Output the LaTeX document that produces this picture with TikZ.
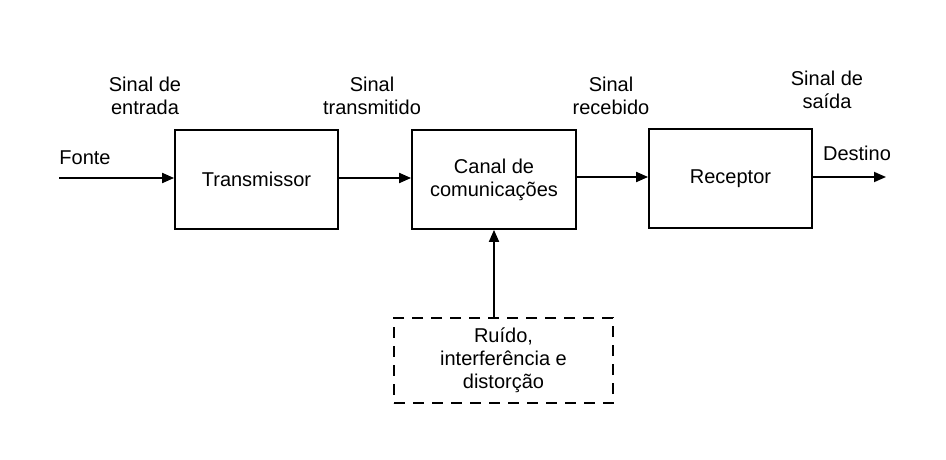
\documentclass[tikz,border=0pt]{standalone}
\usepackage{fontspec}
\setmainfont{Liberation Sans}
\usetikzlibrary{arrows.meta}
\begin{document}
\begin{tikzpicture}[x=1pt,y=-1pt,
  blockbox/.style={draw,line width=1.8pt,inner sep=0pt},
  conn/.style={line width=1.8pt,-{Triangle[length=12pt,width=10pt]}},
  lbl/.style={font=\fontsize{20}{23}\selectfont,align=center,inner sep=0pt},
  txt/.style={font=\fontsize{20}{23}\selectfont,align=center}]
\useasboundingbox (0,0) rectangle (946,460);
\node[blockbox,minimum width=163pt,minimum height=99pt,txt] (tx) at (256.5,179.5) {Transmissor};
\node[blockbox,minimum width=164pt,minimum height=99pt,txt] (ch) at (494,179.5) {Canal de\\comunicações};
\node[blockbox,minimum width=163pt,minimum height=99pt,txt] (rx) at (730.5,178.5) {Receptor};
\node[blockbox,dashed,dash pattern=on 11pt off 8pt,minimum width=219pt,minimum height=85pt,txt] (noise) at (503.5,360.5) {Ruído,\\interferência e\\distorção};
\coordinate (src) at (59,178);
\coordinate (dst) at (886,177);
\draw[conn] (src) -- (tx.west |- src);
\draw[conn] (tx.east |- 0,178) -- (ch.west |- 0,178);
\draw[conn] (ch.east |- 0,177) -- (rx.west |- 0,177);
\draw[conn] (rx.east |- dst) -- (dst);
\draw[conn] (noise.north -| 494,0) -- (ch.south);
\node[lbl] (l1) at (145,96) {Sinal de\\entrada};
\node[lbl] (l2) at (372,96) {Sinal\\transmitido};
\node[lbl] (l3) at (611,96) {Sinal\\recebido};
\node[lbl] (l4) at (827,90) {Sinal de\\saída};
\node[lbl] (fonte) at (85,158) {Fonte};
\node[lbl] (dest) at (857,153) {Destino};
\end{tikzpicture}
\end{document}
